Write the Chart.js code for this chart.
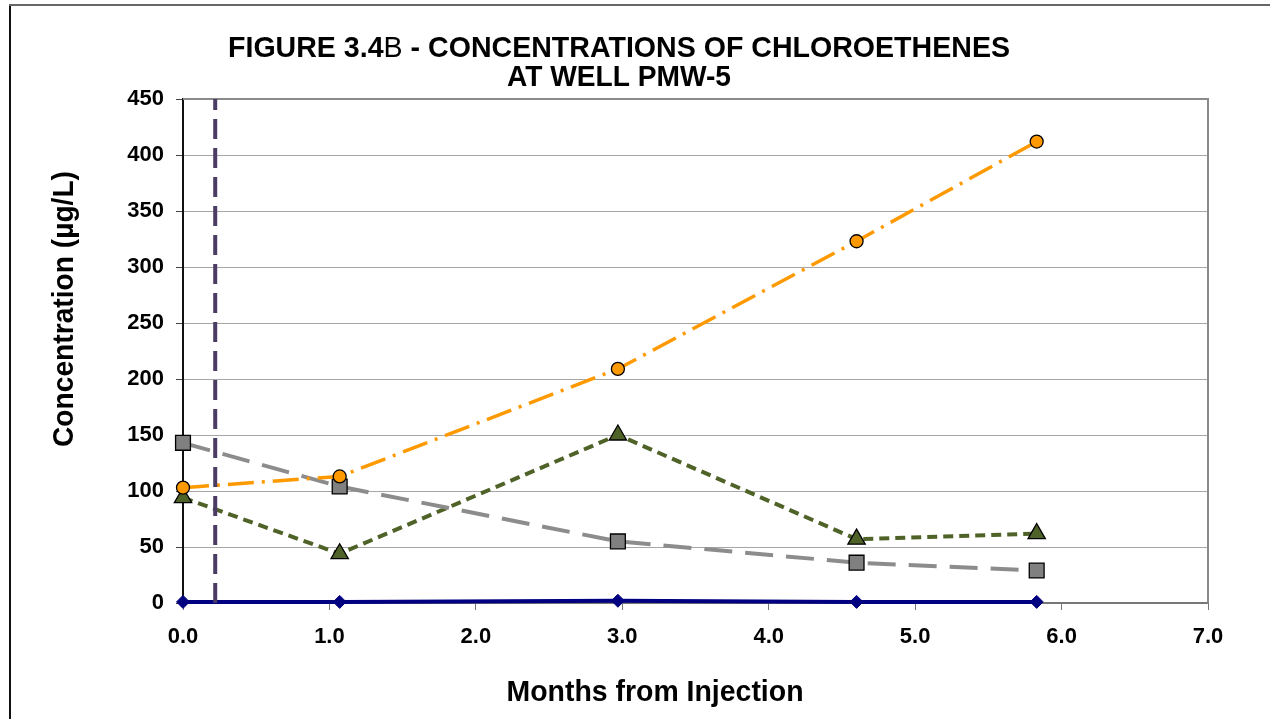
<!DOCTYPE html>
<html>
<head>
<meta charset="utf-8">
<script src="https://cdn.jsdelivr.net/npm/chart.js@4.4.1/dist/chart.umd.min.js"></script>
<style>
html,body{margin:0;padding:0;background:#fff;}
#wrap{width:1270px;height:719px;position:relative;}
</style>
</head>
<body>
<div id="wrap"><canvas id="c" width="1270" height="719"></canvas></div>
<script>
// ---- data ----
const months = [0.0, 1.07, 2.97, 4.60, 5.83];
const seriesOrange = [103, 113, 209, 323, 412];
const seriesGray   = [143, 104, 55, 36, 29];
const seriesGreen  = [94, 44, 150, 57, 62];
const seriesBlue   = [1, 1, 2, 1, 1];
const injectionMonth = 0.22;
const xTicks = [0, 1, 2, 3, 4, 5, 6, 7];
const yTicks = [0, 50, 100, 150, 200, 250, 300, 350, 400, 450];
const titleLine1 = ['FIGURE 3.4', 'B', ' - CONCENTRATIONS OF CHLOROETHENES'];
const titleLine2 = 'AT WELL PMW-5';
const xTitle = 'Months from Injection';
const yTitle = 'Concentration (\u00b5g/L)';

const FONT = '"Liberation Sans", Arial, sans-serif';
const pts = arr => months.map((m, i) => ({x: m, y: arr[i]}));

function condensed(ctx, text, font, cx, by, targetW) {
  ctx.font = font;
  const w = ctx.measureText(text).width;
  ctx.save();
  ctx.translate(cx, by);
  ctx.scale(targetW / w, 1);
  ctx.textAlign = 'center';
  ctx.textBaseline = 'alphabetic';
  ctx.fillText(text, 0, 0);
  ctx.restore();
}

const decor = {
  id: 'decor',
  beforeDraw(chart) {
    const ctx = chart.ctx;
    ctx.save();
    ctx.fillStyle = '#fff';
    ctx.fillRect(0, 0, chart.width, chart.height);
    ctx.fillStyle = '#111';
    ctx.fillRect(9, 4, 2, chart.height);
    ctx.fillStyle = '#666';
    ctx.fillRect(9, 4, chart.width, 2);
    ctx.restore();
  },
  beforeDatasetsDraw(chart) {
    const ctx = chart.ctx;
    const a = chart.chartArea;
    ctx.save();
    ctx.strokeStyle = '#8a8a8a';
    ctx.lineWidth = 2;
    ctx.beginPath();
    ctx.moveTo(a.left, a.top);
    ctx.lineTo(a.right, a.top);
    ctx.lineTo(a.right, a.bottom);
    ctx.stroke();
    ctx.restore();
  },
  afterDraw(chart) {
    const ctx = chart.ctx;
    ctx.save();
    ctx.fillStyle = '#000';
    const bold = 'bold 30px ' + FONT, norm = '30px ' + FONT;
    const fonts = [bold, norm, bold];
    let total = 0; const ws = [];
    titleLine1.forEach((t, i) => { ctx.font = fonts[i]; const w = ctx.measureText(t).width; ws.push(w); total += w; });
    const target = 782, s = target / total;
    let x0 = 228;
    ctx.textAlign = 'left';
    ctx.textBaseline = 'alphabetic';
    titleLine1.forEach((t, i) => {
      ctx.save();
      ctx.translate(x0, 57);
      ctx.scale(s, 1);
      ctx.font = fonts[i];
      ctx.fillText(t, 0, 0);
      ctx.restore();
      x0 += ws[i] * s;
    });
    condensed(ctx, titleLine2, bold, 619, 86, 224);
    condensed(ctx, xTitle, 'bold 29px ' + FONT, 655, 701, 297);
    ctx.save();
    ctx.translate(73, 309);
    ctx.rotate(-Math.PI / 2);
    condensed(ctx, yTitle, 'bold 29px ' + FONT, 0, 0, 276);
    ctx.restore();
    ctx.restore();
  }
};

new Chart(document.getElementById('c'), {
  type: 'scatter',
  data: {
    datasets: [
      {
        label: 'Injection', data: [{x: injectionMonth, y: 0}, {x: injectionMonth, y: 450}],
        showLine: true, borderColor: '#4a3c63', borderWidth: 4, borderDash: [20, 9],
        pointRadius: 0, order: 0, clip: false
      },
      {
        label: 'Series 1', data: pts(seriesOrange), showLine: true, clip: false,
        borderColor: '#ff9900', borderWidth: 3.5, borderDash: [26, 8, 3, 8],
        pointStyle: 'circle', pointRadius: 6.5, pointBackgroundColor: '#ff9900',
        pointBorderColor: '#000', pointBorderWidth: 1.3, order: 1
      },
      {
        label: 'Series 2', data: pts(seriesGray), showLine: true, clip: false,
        borderColor: '#8c8c8c', borderWidth: 4, borderDash: [28, 13],
        pointStyle: 'rect', pointRadius: 10.5, pointBackgroundColor: '#808080',
        pointBorderColor: '#000', pointBorderWidth: 1.3, order: 2
      },
      {
        label: 'Series 3', data: pts(seriesGreen), showLine: true, clip: false,
        borderColor: '#4f6228', borderWidth: 4, borderDash: [10, 6],
        pointStyle: 'triangle', pointRadius: 10, pointBackgroundColor: '#4f6228',
        pointBorderColor: '#000', pointBorderWidth: 1.3, order: 3
      },
      {
        label: 'Series 4', data: pts(seriesBlue), showLine: true, clip: false,
        borderColor: '#000080', borderWidth: 4,
        pointStyle: 'rectRot', pointRadius: 6.5, pointBackgroundColor: '#000080',
        pointBorderColor: '#000080', pointBorderWidth: 1, order: 4
      }
    ]
  },
  options: {
    responsive: false,
    animation: false,
    devicePixelRatio: 1,
    layout: {padding: {top: 99, right: 62, left: 0, bottom: 0}},
    plugins: {legend: {display: false}, tooltip: {enabled: false}, title: {display: false}},
    elements: {line: {tension: 0}},
    scales: {
      x: {
        type: 'linear', min: 0, max: 7,
        afterBuildTicks: s => { s.ticks = xTicks.map(v => ({value: v})); },
        afterFit: s => { s.height = 116; },
        ticks: {
          callback: v => Number(v).toFixed(1),
          color: '#000', font: {family: FONT, size: 22, weight: 'bold'}, padding: 14, maxRotation: 0
        },
        grid: {drawOnChartArea: false, drawTicks: true, tickLength: 7, color: '#777', lineWidth: 1},
        border: {color: '#777', width: 2}
      },
      y: {
        type: 'linear', min: 0, max: 450,
        afterBuildTicks: s => { s.ticks = yTicks.map(v => ({value: v})); },
        afterFit: s => { s.width = 183; },
        ticks: {color: '#000', font: {family: FONT, size: 22, weight: 'bold'}, padding: 12},
        grid: {color: '#a6a6a6', lineWidth: 1, tickLength: 7, tickColor: '#444'},
        border: {color: '#111', width: 2}
      }
    }
  },
  plugins: [decor]
});
</script>
</body>
</html>
